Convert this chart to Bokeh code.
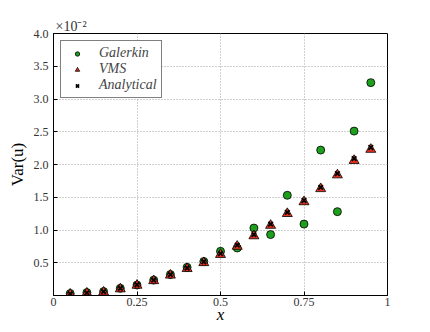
from bokeh.plotting import figure
from bokeh.models import FixedTicker, Range1d, Legend, LegendItem
from bokeh.embed import file_html
from bokeh.resources import INLINE

# Data (Var(u) in units of 1e-2)
x_vals = [0.05, 0.10, 0.15, 0.20, 0.25, 0.30, 0.35, 0.40, 0.45, 0.50,
          0.55, 0.60, 0.65, 0.70, 0.75, 0.80, 0.85, 0.90, 0.95]
galerkin = [0.03, 0.045, 0.06, 0.11, 0.16, 0.235, 0.32, 0.43, 0.52, 0.675,
            0.725, 1.03, 0.93, 1.53, 1.09, 2.22, 1.28, 2.51, 3.25]
vms = [0.02, 0.035, 0.05, 0.10, 0.155, 0.225, 0.31, 0.41, 0.50, 0.625,
       0.75, 0.91, 1.07, 1.25, 1.43, 1.63, 1.84, 2.06, 2.23]
analytical = [0.025, 0.04, 0.06, 0.11, 0.165, 0.235, 0.32, 0.42, 0.515, 0.64,
              0.77, 0.93, 1.09, 1.27, 1.45, 1.65, 1.86, 2.09, 2.26]
x_ticks = [0, 0.25, 0.5, 0.75, 1]
x_tick_labels = ["0", "0.25", "0.5", "0.75", "1"]
y_ticks = [0.5, 1.0, 1.5, 2.0, 2.5, 3.0, 3.5, 4.0]
y_tick_labels = ["0.5", "1.0", "1.5", "2.0", "2.5", "3.0", "3.5", "4.0"]

SERIF = "Liberation Serif"

p = figure(width=420, height=326, output_backend="svg", toolbar_location=None,
           x_range=Range1d(0, 1), y_range=Range1d(0, 4.0),
           min_border_left=53, min_border_right=33, min_border_top=33, min_border_bottom=27)
p.outline_line_color = "black"
p.outline_line_width = 1
p.background_fill_color = "white"
p.border_fill_color = "white"

p.title.text = "×10⁻²"
p.title.text_font = SERIF
p.title.text_font_size = "14px"
p.title.text_font_style = "normal"
p.title.text_color = "#333333"
p.title.align = "left"
p.title.offset = 2
p.title.standoff = 0

for ax in (p.xaxis[0], p.yaxis[0]):
    ax.major_tick_in = 4
    ax.major_tick_out = 0
    ax.minor_tick_in = 0
    ax.minor_tick_out = 0
    ax.axis_line_color = "black"
    ax.major_label_text_font = SERIF
    ax.major_label_text_font_size = "12px"
    ax.major_label_text_color = "#333333"
    ax.axis_label_text_font = SERIF
    ax.axis_label_text_font_size = "17px"
    ax.axis_label_text_color = "black"

p.xaxis.major_label_standoff = 2
p.yaxis.major_label_standoff = 5
p.xaxis.axis_label = "x"
p.xaxis.axis_label_text_font_style = "italic"
p.xaxis.axis_label_standoff = -4
p.yaxis.axis_label = "Var(u)"
p.yaxis.axis_label_text_font_style = "normal"
p.yaxis.axis_label_standoff = 4

p.xaxis.ticker = FixedTicker(ticks=x_ticks)
p.xaxis.major_label_overrides = {t: l for t, l in zip(x_ticks, x_tick_labels)}
p.yaxis.ticker = FixedTicker(ticks=y_ticks)
p.yaxis.major_label_overrides = {t: l for t, l in zip(y_ticks, y_tick_labels)}

p.grid.grid_line_color = "#a0a0a0"
p.grid.grid_line_dash = "1 2"
p.grid.grid_line_width = 1

r_g = p.scatter(x_vals, galerkin, marker="circle", size=8, fill_color="#1ea01e",
                line_color="black", line_width=0.8)
r_v = p.scatter(x_vals, vms, marker="triangle", size=10, fill_color="#e8321e",
                line_color="black", line_width=0.8)
r_a = p.scatter(x_vals, analytical, marker="x", size=6.5, line_color="black", line_width=1.8)

legend = Legend(items=[LegendItem(label="Galerkin", renderers=[r_g]),
                       LegendItem(label="VMS", renderers=[r_v]),
                       LegendItem(label="Analytical", renderers=[r_a])],
                location="top_left")
legend.margin = 7
legend.padding = 4
legend.spacing = -7
legend.glyph_width = 24
legend.glyph_height = 11
legend.label_height = 11
legend.label_standoff = 10
legend.label_text_font = SERIF
legend.label_text_font_style = "italic"
legend.label_text_font_size = "14px"
legend.label_text_line_height = 0.9
legend.border_line_color = "black"
legend.border_line_width = 1
legend.background_fill_alpha = 1
p.add_layout(legend)

open("out.html", "w").write(file_html(p, INLINE))
